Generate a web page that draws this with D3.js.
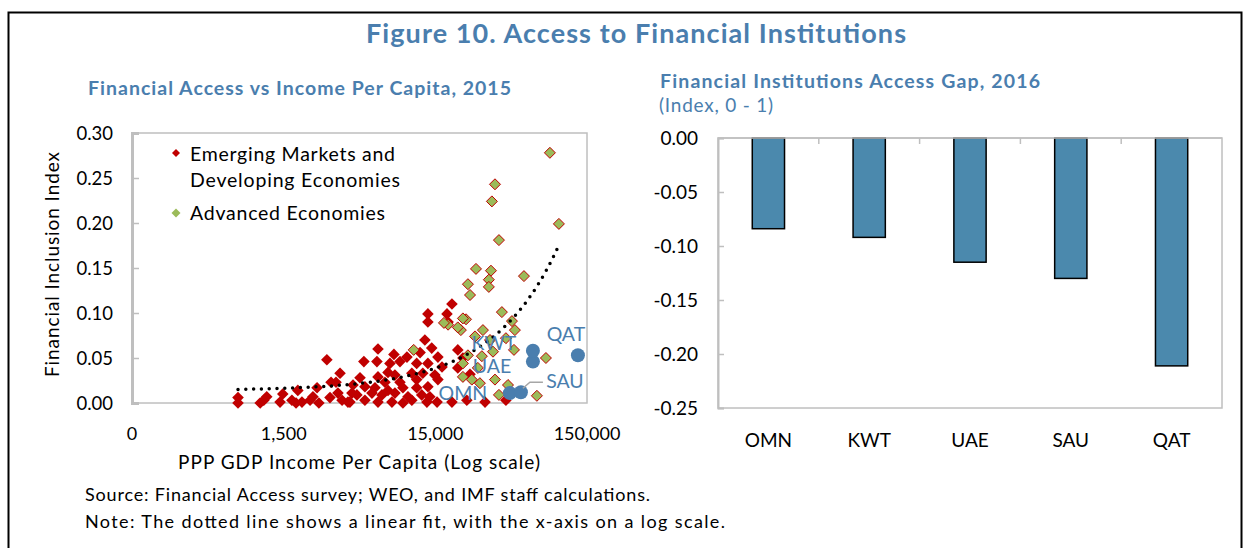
<!DOCTYPE html>
<html>
<head>
<meta charset="utf-8">
<script src="https://cdn.jsdelivr.net/npm/d3@7"></script>
<style>
	body { margin: 0; background: #fff; }
	text { font-family: Lato, "Noto Sans", sans-serif; }
</style>
</head>
<body>
<script>
// left panel : emerging markets and developing economies
const emdeIncome = [750, 750, 1050, 1110, 1160, 1420, 1480, 1700, 1810, 1860, 1980, 2240, 2340, 2490, 2560,
	2890, 3030, 3080, 3320, 3530, 3420, 3640, 3980, 4230, 4300, 4100, 4560, 4780, 5070, 5150, 5150, 5730, 6000,
	6180, 6280, 6280, 6280, 6670, 6980, 7310, 7310, 7530, 7760, 8000, 8120, 8120, 8770, 8770, 9170, 9170, 9750,
	9900, 10500, 10500, 11300, 11300, 11300, 11900, 12200, 12400, 12800, 13200, 13400, 13400, 13400, 13400,
	13800, 14200, 14900, 15600, 15600, 16600, 17900, 18200, 19300, 21100, 21100, 22800, 25400, 24200, 43800,
	31900, 15400, 19300];
const emdeIndex = [0.006, 0.000, 0.000, 0.003, 0.007, 0.001, 0.010, 0.003, 0.000, 0.014, 0.001, 0.003, 0.007,
	0.017, 0.000, 0.048, 0.006, 0.023, 0.023, 0.033, 0.011, 0.003, 0.001, 0.011, 0.020, 0.001, 0.009, 0.028,
	0.046, 0.018, 0.003, 0.011, 0.017, 0.046, 0.060, 0.029, 0.001, 0.009, 0.023, 0.034, 0.014, 0.044, 0.001,
	0.054, 0.031, 0.011, 0.046, 0.023, 0.017, 0.000, 0.051, 0.007, 0.033, 0.003, 0.044, 0.026, 0.017, 0.056,
	0.009, 0.033, 0.070, 0.001, 0.099, 0.090, 0.044, 0.018, 0.007, 0.061, 0.031, 0.051, 0.026, 0.040, 0.099,
	0.090, 0.110, 0.059, 0.039, 0.050, 0.032, 0.003, 0.003, 0.001, 0.001, 0.001];

// advanced economies
const aeIncome = [85400, 37100, 35400, 97900, 39400, 27800, 34900, 33800, 33800, 57600, 24600, 25400, 41200,
	23900, 22100, 18200, 30900, 48000, 50200, 43800, 27400, 34400, 10800, 24600, 36000, 49500, 22800, 30400,
	28600, 22800, 26100, 29500, 37100, 45200, 39400, 70100, 80400, 17100, 21100, 22800];
const aeIndex = [0.278, 0.243, 0.224, 0.199, 0.181, 0.149, 0.147, 0.137, 0.129, 0.141, 0.132, 0.120, 0.101,
	0.093, 0.081, 0.087, 0.081, 0.091, 0.081, 0.072, 0.074, 0.070, 0.059, 0.053, 0.057, 0.059, 0.044, 0.052,
	0.039, 0.029, 0.026, 0.022, 0.026, 0.020, 0.009, 0.008, 0.050, 0.089, 0.084, 0.094];

// GCC countries
const gccNames = ["OMN", "SAU", "UAE", "KWT", "QAT"];
const gccIncome = [46500, 55000, 66000, 66000, 130700];
const gccIndex = [0.011, 0.012, 0.046, 0.058, 0.053];

// dotted linear fit (index = a + b * income)
const fitIntercept = 0.0139;
const fitSlope = 1.65e-6;
const fitRange = [750, 99000];

const xTickValues = [150, 1500, 15000, 150000];
const xTickLabels = ["0", "1,500", "15,000", "150,000"];
const yTickValues = [0, 0.05, 0.1, 0.15, 0.2, 0.25, 0.3];

// right panel : access gap
const gapCountries = ["OMN", "KWT", "UAE", "SAU", "QAT"];
const gapValues = [-0.084, -0.092, -0.115, -0.130, -0.211];
const gapTicks = [0, -0.05, -0.1, -0.15, -0.2, -0.25];

const blue = "#4a7eae";
const grey = "#bfbfbf";

const svg = d3.select("body").append("svg")
	.attr("width", 1249)
	.attr("height", 548);

svg.append("rect")
	.attr("x", 8.5).attr("y", 12.5)
	.attr("width", 1233).attr("height", 560)
	.attr("fill", "#fff")
	.attr("stroke", "#000")
	.attr("stroke-width", 2);

// plain text helper, stretched to the width seen in the reference
const addText = (parent, str, xx, yy, size, width, opts = {}) => {
	const t = parent.append("text")
		.attr("x", xx).attr("y", yy)
		.attr("font-size", size)
		.attr("fill", opts.fill || "#000")
		.text(str);
	if (opts.bold) t.attr("font-weight", "bold");
	if (width) t.attr("textLength", width).attr("lengthAdjust", "spacing");
	return t;
};

// titles
addText(svg, "Figure 10. Access to Financial Institutions", 366, 43, 27, 540, { bold: true, fill: blue });
addText(svg, "Financial Access vs Income Per Capita, 2015", 88, 95, 19.5, 423, { bold: true, fill: blue });
addText(svg, "Financial Institutions Access Gap, 2016", 660, 88, 19.5, 380, { bold: true, fill: blue });
addText(svg, "(Index, 0 - 1)", 659, 112, 19, 114, { fill: blue });

// ---------- scatter ----------
const x = d3.scaleLog().domain([150, 150000]).range([132, 587]);
const y = d3.scaleLinear().domain([0, 0.3]).range([403, 133]);

const left = svg.append("g");

left.append("rect")
	.attr("x", 132).attr("y", 133)
	.attr("width", 455).attr("height", 270)
	.attr("fill", "none")
	.attr("stroke", grey).attr("stroke-width", 1.5);

left.append("g")
	.attr("transform", "translate(132,0)")
	.call(d3.axisRight(y).tickValues(yTickValues).tickSize(7).tickFormat(""))
	.call((g) => g.selectAll("line").attr("stroke", grey).attr("stroke-width", 1.5))
	.call((g) => g.select(".domain").attr("stroke", grey).attr("stroke-width", 3));

left.selectAll(".ylab")
	.data(yTickValues)
	.join("text")
	.attr("x", 113)
	.attr("y", (d) => y(d) + 6.5)
	.attr("text-anchor", "end")
	.attr("font-size", 18.5)
	.text((d) => d3.format(".2f")(d));

left.selectAll(".xlab")
	.data(xTickValues)
	.join("text")
	.attr("x", (d) => x(d))
	.attr("y", 440)
	.attr("text-anchor", "middle")
	.attr("font-size", 18)
	.text((d, i) => xTickLabels[i]);

addText(left, "PPP GDP Income Per Capita (Log scale)", 178, 469, 19, 362);

addText(left, "Financial Inclusion Index", 0, 0, 19, 225)
	.attr("x", null).attr("y", null)
	.attr("transform", "translate(59,377) rotate(-90)");

const diamond = (r) => `M0,${-r}L${r},0L0,${r}L${-r},0Z`;

left.selectAll(".emde")
	.data(emdeIncome)
	.join("path")
	.attr("d", diamond(5.8))
	.attr("transform", (d, i) => `translate(${x(d)},${y(emdeIndex[i])})`)
	.attr("fill", "#c00000");

left.selectAll(".ae")
	.data(aeIncome)
	.join("path")
	.attr("d", diamond(5.5))
	.attr("transform", (d, i) => `translate(${x(d)},${y(aeIndex[i])})`)
	.attr("fill", "#9bbb59")
	.attr("stroke", "#c00000")
	.attr("stroke-width", 1);

// trend line
const fitPts = d3.range(0, 1.0001, 0.01).map((t) => {
	const inc = Math.exp(Math.log(fitRange[0]) + t * (Math.log(fitRange[1]) - Math.log(fitRange[0])));
	return [inc, fitIntercept + fitSlope * inc];
});

left.append("path")
	.datum(fitPts)
	.attr("d", d3.line().x((d) => x(d[0])).y((d) => y(d[1])))
	.attr("fill", "none")
	.attr("stroke", "#000")
	.attr("stroke-width", 3.5)
	.attr("stroke-linecap", "round")
	.attr("stroke-dasharray", "0,7.8");

// GCC dots and labels
left.selectAll(".gcc")
	.data(gccIncome)
	.join("circle")
	.attr("cx", (d) => x(d))
	.attr("cy", (d, i) => y(gccIndex[i]))
	.attr("r", 7)
	.attr("fill", blue);

// label offsets from each dot
const gccLabelDx = [-47, 44, -41, -39, -12];
const gccLabelDy = [2, -9, 6, -6, -19];

left.append("polyline")
	.attr("points", `${x(gccIncome[1]) + 2},${y(gccIndex[1]) - 4} ${x(gccIncome[1]) + 9},${y(gccIndex[1]) - 10} ${x(gccIncome[1]) + 22},${y(gccIndex[1]) - 10}`)
	.attr("fill", "none")
	.attr("stroke", "#a6a6a6")
	.attr("stroke-width", 1.5);

left.selectAll(".gcclab")
	.data(gccNames)
	.join("text")
	.attr("x", (d, i) => x(gccIncome[i]) + gccLabelDx[i])
	.attr("y", (d, i) => y(gccIndex[i]) + gccLabelDy[i])
	.attr("text-anchor", "middle")
	.attr("dominant-baseline", "middle")
	.attr("font-size", 19.5)
	.attr("fill", blue)
	.text((d) => d);

// legend
left.append("path").attr("d", diamond(4)).attr("transform", "translate(176,153)").attr("fill", "#c00000");
left.append("path").attr("d", diamond(4.5)).attr("transform", "translate(176,213)").attr("fill", "#9bbb59");

addText(left, "Emerging Markets and", 190, 161, 19.5, 205);
addText(left, "Developing Economies", 190, 187, 19.5, 210);
addText(left, "Advanced Economies", 190, 220, 19.5, 195);

// ---------- bars ----------
const xb = d3.scaleBand().domain(gapCountries).range([718, 1222]).paddingInner(0.68).paddingOuter(0.34);
const yb = d3.scaleLinear().domain([-0.25, 0]).range([408, 138]);

const right = svg.append("g");

right.append("rect")
	.attr("x", 718).attr("y", 138)
	.attr("width", 504).attr("height", 270)
	.attr("fill", "none")
	.attr("stroke", grey).attr("stroke-width", 1.5);

right.append("g")
	.attr("transform", "translate(718,0)")
	.call(d3.axisRight(yb).tickValues(gapTicks).tickSize(6).tickFormat(""))
	.call((g) => g.selectAll("line").attr("stroke", grey).attr("stroke-width", 1.5))
	.call((g) => g.select(".domain").attr("stroke", grey).attr("stroke-width", 2));

// category boundary ticks along the zero line
const gap = (xb.step() - xb.bandwidth()) / 2;
right.selectAll(".btick")
	.data(gapCountries.slice(1))
	.join("line")
	.attr("x1", (d) => xb(d) - gap)
	.attr("x2", (d) => xb(d) - gap)
	.attr("y1", yb(0))
	.attr("y2", yb(0) + 6)
	.attr("stroke", grey)
	.attr("stroke-width", 1.5);

right.selectAll(".bar")
	.data(gapValues)
	.join("rect")
	.attr("x", (d, i) => xb(gapCountries[i]))
	.attr("y", yb(0))
	.attr("width", xb.bandwidth())
	.attr("height", (d) => yb(d) - yb(0))
	.attr("fill", "#4b89ad")
	.attr("stroke", "#000")
	.attr("stroke-width", 1.5);

right.append("line")
	.attr("x1", 718).attr("x2", 1222)
	.attr("y1", yb(0)).attr("y2", yb(0))
	.attr("stroke", grey).attr("stroke-width", 1.5);

right.selectAll(".blab")
	.data(gapTicks)
	.join("text")
	.attr("x", 698)
	.attr("y", (d) => yb(d) + 6.5)
	.attr("text-anchor", "end")
	.attr("font-size", 19)
	.text((d) => d3.format(".2f")(d).replace("−", "-"));

right.selectAll(".clab")
	.data(gapCountries)
	.join("text")
	.attr("x", (d) => xb(d) + xb.bandwidth() / 2)
	.attr("y", 447)
	.attr("text-anchor", "middle")
	.attr("font-size", 19)
	.text((d) => d);

// notes
addText(svg, "Source: Financial Access survey; WEO, and IMF staff calculations.", 85, 501, 18, 565);
addText(svg, "Note: The dotted line shows a linear fit, with the x-axis on a log scale.", 85, 528, 18, 640);
</script>
</body>
</html>
